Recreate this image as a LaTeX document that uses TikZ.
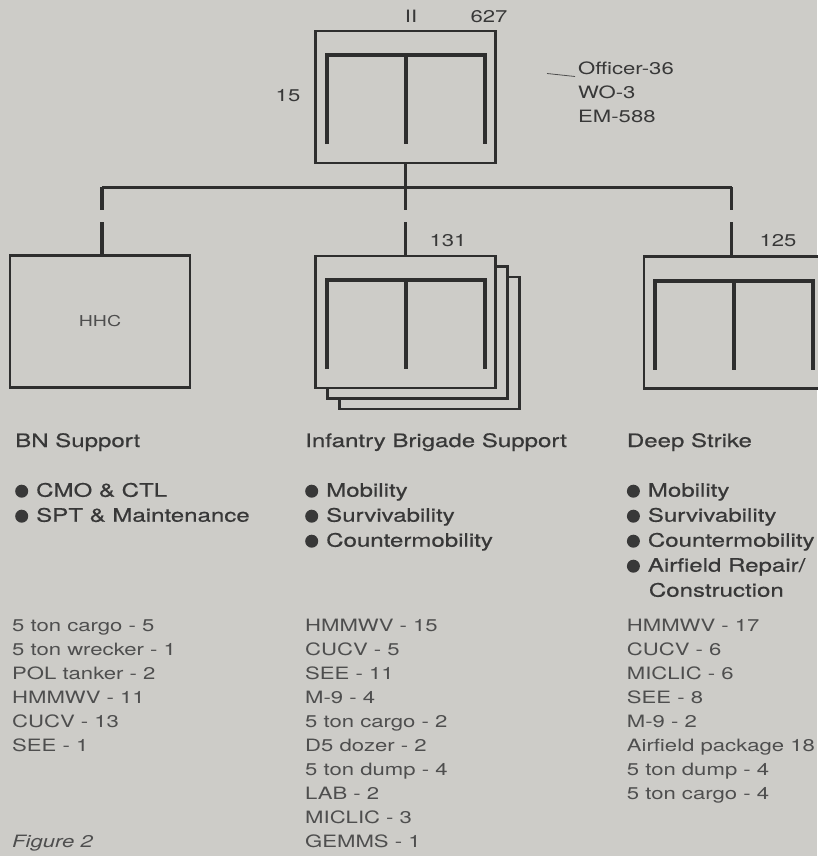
\documentclass[tikz,border=0pt]{standalone}
\usepackage{fontspec}
\setmainfont[FakeStretch=1.3]{TeX Gyre Heros}
\newfontfamily\medfont[FakeStretch=1.3,FakeBold=0.5]{TeX Gyre Heros}
\usetikzlibrary{calc,positioning}
\definecolor{paper}{HTML}{CDCCC8}
\definecolor{ink}{HTML}{2E2E2E}
\definecolor{txt}{HTML}{383838}
\definecolor{lst}{HTML}{4E4E4E}
\newcommand{\bul}{\tikz[baseline=0pt]\fill[txt] (6.5pt,5.5pt) circle[radius=6.5pt];\hspace{8pt}}

\begin{document}
\begin{tikzpicture}[x=1pt,y=-1pt]
	\tikzset{unit/.style = {draw=ink, line width=2.4pt, fill=paper, minimum width=180pt, minimum height=132pt, inner sep=0pt}}
	\tikzset{bar/.style = {draw=ink, line width=3.4pt}}
	\tikzset{drop/.style = {bar, dash pattern=on 23pt off 12pt on 80pt}}
	\tikzset{lbl/.style = {anchor=base west, inner sep=0pt, text=txt, font=\fontsize{17}{24}\selectfont}}
	\tikzset{head/.style = {lbl, font=\medfont\fontsize{18.5}{25}\selectfont}}
	\tikzset{list/.style = {lbl, text=lst}}
	\tikzset{engsym/.pic = {
		\draw[bar, line width=4pt] (-79,47) -- (-79,-42) -- (79,-42) -- (79,47);
		\draw[bar, line width=4pt] (0,-42) -- (0,47);}}

	% paper
	\fill[paper] (0,0) rectangle (817,856);
	\useasboundingbox (0,0) rectangle (817,856);

	% bus
	\coordinate (bl) at (102,187);
	\coordinate (bm) at (405.5,187);
	\coordinate (br) at (731.7,187);

	% units
	\node[unit] (hq) at (405.5,97) {};
	\node[unit] (hhc) at (100,321.5) {\fontsize{15}{15}\selectfont\color{lst}HHC};
	\node[unit] (ibs3) at (429.5,343) {};
	\node[unit] (ibs2) at (417.5,332.5) {};
	\node[unit] (ibs) at (405.5,322) {};
	\node[unit] (ds) at (734,322.5) {};
	\pic at (hq) {engsym};
	\pic at (ibs) {engsym};
	\pic at (ds) {engsym};

	% lines
	\draw[bar, line width=3pt] (hq.south) -- (bm);
	\draw[bar, line width=3pt] (bl) -- (br);
	\draw[drop] (bl) -- (bl |- hhc.north);
	\draw[drop] (bm) -- (ibs.north);
	\draw[drop] (br) -- (br |- ds.north);

	% labels
	\node[lbl, anchor=base] (ii) at (411,22.7) {II};
	\node[lbl, anchor=base] (str) at (489,22.7) {627};
	\node[lbl, anchor=base] (off15) at (288,101.7) {15};
	\node[lbl, anchor=base] (str131) at (448,246.7) {131};
	\node[lbl, anchor=base] (str125) at (778,246.7) {125};
	\node[lbl] (off) at (578,75) {Officer-36};
	\node[lbl] (wo) at (578,99) {WO-3};
	\node[lbl] (em) at (578,123) {EM-588};
	\coordinate (ldr) at (547,73.5);
	\draw[lst, line width=0.8pt] (ldr) -- ([xshift=-3pt,yshift=-1.5pt]off.base west);

	% columns
	\node[head] (bn) at (15,447) {BN Support};
	\node[head] (ib) at (305,447) {Infantry Brigade Support};
	\node[head] (dp) at (626.7,447) {Deep Strike};

	\foreach \t [count=\i] in {CMO \& CTL, SPT \& Maintenance}
		\node[head] (bn-\i) at (15,496.7+25*\i-25) {\bul\t};
	\foreach \t [count=\i] in {Mobility, Survivability, Countermobility}
		\node[head] (ib-\i) at (305,496.7+25*\i-25) {\bul\t};
	\foreach \t [count=\i] in {Mobility, Survivability, Countermobility, Airfield Repair/}
		\node[head] (dp-\i) at (626.7,496.7+25*\i-25) {\bul\t};
	\node[head] (dp-5) at (648.7,596.7) {Construction};

	\foreach \t [count=\i] in {5 ton cargo - 5, 5 ton wrecker - 1, POL tanker - 2, HMMWV - 11, CUCV - 13, SEE - 1}
		\node[list] (bnl-\i) at (12,631.7+24*\i-24) {\t};
	\foreach \t [count=\i] in {HMMWV - 15, CUCV - 5, SEE - 11, M-9 - 4, 5 ton cargo - 2, D5 dozer - 2, 5 ton dump - 4, LAB - 2, MICLIC - 3, GEMMS - 1}
		\node[list] (ibl-\i) at (305,631.7+24*\i-24) {\t};
	\foreach \t [count=\i] in {HMMWV - 17, CUCV - 6, MICLIC - 6, SEE - 8, M-9 - 2, Airfield package 18, 5 ton dump - 4, 5 ton cargo - 4}
		\node[list] (dpl-\i) at (626.7,631.7+24*\i-24) {\t};

	\node[list] (fig) at (12,847.7) {\itshape Figure 2};
\end{tikzpicture}
\end{document}
